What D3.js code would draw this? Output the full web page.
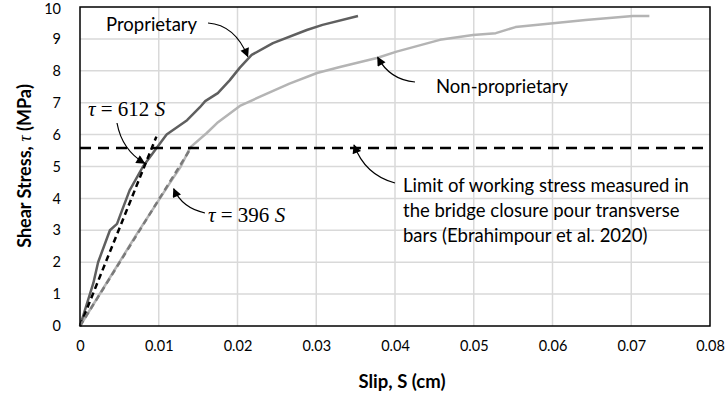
<!DOCTYPE html>
<html>
<head>
<meta charset="utf-8">
<script src="https://cdn.jsdelivr.net/npm/d3@7"></script>
<style>
  body { margin: 0; background: #fff; }
  svg { display: block; }
</style>
</head>
<body>
<svg id="chart" width="726" height="394"></svg>
<script>
// slip (cm) vs shear stress (MPa)
let propSlip   = [0, 0.0017, 0.0023, 0.0038, 0.0047, 0.0053, 0.0063, 0.008, 0.0098, 0.011, 0.0136, 0.0152, 0.0159, 0.0175, 0.019, 0.0203, 0.0218, 0.0245, 0.0288, 0.0308, 0.0353];
let propStress = [0, 1.35, 2.0, 3.0, 3.2, 3.6, 4.25, 5.0, 5.6, 6.0, 6.45, 6.85, 7.05, 7.3, 7.7, 8.1, 8.5, 8.87, 9.28, 9.44, 9.72];

let nonpropSlip   = [0, 0.003, 0.007, 0.0114, 0.0128, 0.014, 0.0161, 0.0174, 0.0203, 0.0228, 0.0266, 0.0301, 0.033, 0.0377, 0.0402, 0.0457, 0.0499, 0.0528, 0.0553, 0.0604, 0.0642, 0.0702, 0.0723];
let nonpropStress = [0, 1.2, 2.8, 4.48, 5.0, 5.6, 6.05, 6.36, 6.9, 7.18, 7.6, 7.93, 8.12, 8.4, 8.6, 8.97, 9.12, 9.18, 9.37, 9.5, 9.59, 9.72, 9.72];

let fitSlopes = [612, 396];
let fitEndSlip = [0.0097, 0.0142];
let limitStress = 5.58;

let xTicks = [0, 0.01, 0.02, 0.03, 0.04, 0.05, 0.06, 0.07, 0.08];
let yTicks = [0, 1, 2, 3, 4, 5, 6, 7, 8, 9, 10];

let limitLines = ["Limit of working stress measured in",
                  "the bridge closure pour transverse",
                  "bars (Ebrahimpour et al. 2020)"];

let svg = d3.select("#chart");
let margin = {left: 80, right: 16, top: 7, bottom: 68};
let W = 726, H = 394;

let x = d3.scaleLinear().domain([0, 0.08]).range([margin.left, W - margin.right]);
let y = d3.scaleLinear().domain([0, 10]).range([H - margin.bottom, margin.top]);

let font = "Lato, 'Open Sans', sans-serif";
let mathFont = "'Liberation Serif', 'DejaVu Serif', serif";
let noteSize = "18.5px";

// arrow marker
svg.append("defs").append("marker")
  .attr("id", "arrow")
  .attr("viewBox", "0 0 10 10")
  .attr("refX", 9).attr("refY", 5)
  .attr("markerWidth", 12).attr("markerHeight", 9)
  .attr("markerUnits", "userSpaceOnUse")
  .attr("orient", "auto")
  .append("path")
  .attr("d", "M0,0 L10,5 L0,10 z")
  .attr("fill", "#000");

// gridlines
svg.append("g")
  .selectAll("line")
  .data(xTicks.slice(1, -1))
  .enter().append("line")
  .attr("x1", d => x(d)).attr("x2", d => x(d))
  .attr("y1", y(0)).attr("y2", y(10))
  .attr("stroke", "#d9d9d9").attr("stroke-width", 1.5);

svg.append("g")
  .selectAll("line")
  .data(yTicks.slice(1, -1))
  .enter().append("line")
  .attr("x1", x(0)).attr("x2", x(0.08))
  .attr("y1", d => y(d)).attr("y2", d => y(d))
  .attr("stroke", "#d9d9d9").attr("stroke-width", 1.5);

let line = d3.line().x(d => x(d[0])).y(d => y(d[1]));

// test curves
svg.append("path")
  .datum(d3.zip(nonpropSlip, nonpropStress))
  .attr("d", line)
  .attr("fill", "none")
  .attr("stroke", "#b4b4b4")
  .attr("stroke-width", 2.5)
  .attr("stroke-linejoin", "round");

svg.append("path")
  .datum(d3.zip(propSlip, propStress))
  .attr("d", line)
  .attr("fill", "none")
  .attr("stroke", "#5f5f5f")
  .attr("stroke-width", 2.5)
  .attr("stroke-linejoin", "round");

// linear fits
let fitColors = ["#000", "#7a7a7a"];
fitSlopes.forEach(function(k, i) {
  svg.append("path")
    .datum([[0, 0], [fitEndSlip[i], k * fitEndSlip[i]]])
    .attr("d", line)
    .attr("fill", "none")
    .attr("stroke", fitColors[i])
    .attr("stroke-width", 2.5)
    .attr("stroke-dasharray", "6,4");
});

// working stress limit
svg.append("line")
  .attr("x1", x(0)).attr("x2", x(0.08))
  .attr("y1", y(limitStress)).attr("y2", y(limitStress))
  .attr("stroke", "#000")
  .attr("stroke-width", 2.5)
  .attr("stroke-dasharray", "11,7");

// plot border
svg.append("rect")
  .attr("x", x(0)).attr("y", y(10))
  .attr("width", x(0.08) - x(0))
  .attr("height", y(0) - y(10))
  .attr("fill", "none")
  .attr("stroke", "#000")
  .attr("stroke-width", 1.5);

// axes (labels only, lines come from the border)
let xAxis = svg.append("g")
  .attr("transform", "translate(0," + (y(0) + 12) + ")")
  .call(d3.axisBottom(x).tickValues(xTicks).tickSize(0).tickFormat(d => d === 0 ? "0" : d3.format(".2f")(d)));
let yAxis = svg.append("g")
  .attr("transform", "translate(" + (x(0) - 16) + ",0)")
  .call(d3.axisLeft(y).tickValues(yTicks).tickSize(0));
[xAxis, yAxis].forEach(function(a) {
  a.select(".domain").remove();
  a.selectAll("text")
    .style("font-family", font)
    .style("font-size", "14.5px")
    .style("fill", "#000");
});
yAxis.selectAll("text").filter(d => d === 10).attr("dy", "0.42em");

// axis titles
svg.append("text")
  .attr("x", 402).attr("y", 388)
  .attr("text-anchor", "middle")
  .style("font-family", font)
  .style("font-size", "18.5px")
  .style("font-weight", "bold")
  .text("Slip, S (cm)");

let yTitle = svg.append("text")
  .attr("transform", "translate(31,166) rotate(-90)")
  .attr("text-anchor", "middle")
  .style("font-family", font)
  .style("font-size", "18px")
  .style("font-weight", "bold");
yTitle.append("tspan").text("Shear Stress, ");
yTitle.append("tspan").style("font-family", mathFont).style("font-style", "italic").style("font-weight", "normal").text("τ");
yTitle.append("tspan").text(" (MPa)");

// annotations
function addArrow(x1, y1, cx, cy, x2, y2) {
  svg.append("path")
    .attr("d", "M" + x1 + "," + y1 + " Q" + cx + "," + cy + " " + x2 + "," + y2)
    .attr("fill", "none")
    .attr("stroke", "#000")
    .attr("stroke-width", 1.2)
    .attr("marker-end", "url(#arrow)");
}

function addLabel(px, py, txt) {
  svg.append("text")
    .attr("x", px).attr("y", py)
    .style("font-family", font)
    .style("font-size", noteSize)
    .style("fill", "#000")
    .text(txt);
}

function addMath(px, py, k) {
  let t = svg.append("text")
    .attr("x", px).attr("y", py)
    .style("font-family", mathFont)
    .style("font-size", "21px")
    .style("fill", "#000");
  t.append("tspan").style("font-style", "italic").text("τ");
  t.append("tspan").text(" = " + k + " ");
  t.append("tspan").style("font-style", "italic").text("S");
}

addLabel(106, 31, "Proprietary");
addArrow(208, 23, 235, 25, x(0.0213), y(8.45));

addLabel(436, 93, "Non-proprietary");
addArrow(415, 82, 390, 80, x(0.0378), y(8.42));

addMath(88, 116, fitSlopes[0]);
addArrow(117, 123, 122, 150, x(0.0082), y(5.1));

addMath(208, 222, fitSlopes[1]);
addArrow(205, 213, 182, 208, x(0.0119), y(4.3));

limitLines.forEach(function(s, i) {
  addLabel(403, 192 + i * 25, s);
});
addArrow(395, 183, 365, 175, x(0.0348), y(limitStress) - 3);
</script>
</body>
</html>
